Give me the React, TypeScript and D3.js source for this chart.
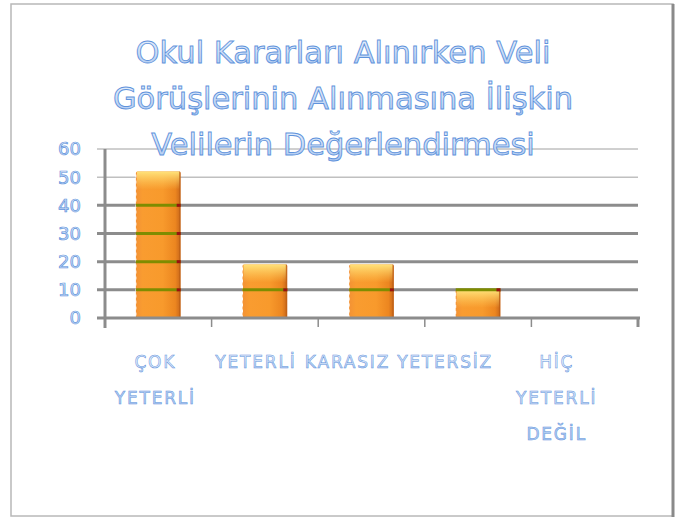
import React from "react";
import * as d3 from "d3";

const categories = ["ÇOK YETERLİ", "YETERLİ", "KARASIZ", "YETERSİZ", "HİÇ YETERLİ DEĞİL"];
const categoryLines = [["ÇOK", "YETERLİ"], ["YETERLİ"], ["KARASIZ"], ["YETERSİZ"], ["HİÇ", "YETERLİ", "DEĞİL"]];
const values = [52, 19, 19, 10, 0];
const yTicks = [0, 10, 20, 30, 40, 50, 60];
const titleLines = ["Okul Kararları Alınırken Veli", "Görüşlerinin Alınmasına İlişkin", "Velilerin Değerlendirmesi"];

// label horizontal nudges (style only)
const labelNudge = [-3, -9, -24, -33, -28];

const W = 676;
const H = 517;

export default function App() {
  const x = d3.scaleBand<string>().domain(categories).range([105, 638]).paddingInner(0.58).paddingOuter(0.29);
  const y = d3.scaleLinear().domain([0, 60]).range([318, 149]);
  const step = x.step();
  const textFill = "url(#txtGrad)";
  const textStroke = "#5f93dc";

  return (
    <svg width={W} height={H} style={{ position: "absolute", left: 0, top: 0, background: "#fff" }}>
      <defs>
        <linearGradient id="barH" x1="0" x2="1" y1="0" y2="0">
          <stop offset="0" stopColor="#f39235" />
          <stop offset="0.15" stopColor="#f99c30" />
          <stop offset="0.6" stopColor="#f89a2c" />
          <stop offset="0.88" stopColor="#ec8620" />
          <stop offset="1" stopColor="#c8661a" />
        </linearGradient>
        <linearGradient id="barTop" x1="0" x2="0" y1="0" y2="1">
          <stop offset="0" stopColor="#ffe27a" stopOpacity="1" />
          <stop offset="1" stopColor="#ffd060" stopOpacity="0" />
        </linearGradient>
        <linearGradient id="txtGrad" x1="0" x2="0" y1="0" y2="1">
          <stop offset="0" stopColor="#eef4fd" />
          <stop offset="1" stopColor="#a9c6ef" />
        </linearGradient>
      </defs>

      {/* outer border */}
      <rect x={11} y={4} width={662} height={512} fill="#fff" stroke="#b8b8b8" strokeWidth={1.5} />
      <line x1={673} x2={673} y1={4} y2={517} stroke="#8a8a8a" strokeWidth={3} />

      {/* gridlines */}
      {yTicks.filter((t) => t > 0).map((t) => (
        <line key={"g" + t} x1={97} x2={638} y1={y(t)} y2={y(t)} stroke={t >= 50 ? "#a0a0a0" : "#8c8c8c"} strokeWidth={t >= 50 ? 1 : 3} />
      ))}

      {/* bars */}
      {categories.map((c, i) => {
        const v = values[i];
        if (v <= 0) return null;
        const bx = x(c) as number;
        const bw = x.bandwidth();
        const top = y(v);
        const h = y(0) - top;
        return (
          <g key={"b" + c}>
            <rect x={bx} y={top} width={bw} height={h} fill="url(#barH)" rx={1.5} />
            <rect x={bx + 1} y={top} width={bw - 2} height={Math.min(18, h)} fill="url(#barTop)" />
            <line x1={bx} x2={bx} y1={top + 3} y2={y(0)} stroke="#fff" strokeWidth={1} strokeDasharray="3,3" />
            <line x1={bx + bw - 1} x2={bx + bw - 1} y1={top} y2={y(0)} stroke="#b55a14" strokeWidth={1} opacity={0.6} />
            {yTicks.filter((t) => t > 0 && t <= v && t < 50).map((t) => (
              <g key={"o" + t}>
                <line x1={bx} x2={bx + bw} y1={y(t)} y2={y(t)} stroke="#7f8c00" strokeWidth={3} />
                <line x1={bx + bw - 4} x2={bx + bw} y1={y(t)} y2={y(t)} stroke="#9a1010" strokeWidth={3} />
              </g>
            ))}
          </g>
        );
      })}

      {/* axes */}
      <line x1={97} x2={640} y1={y(0)} y2={y(0)} stroke="#8c8c8c" strokeWidth={3} />
      <line x1={105} x2={105} y1={149} y2={328} stroke="#8c8c8c" strokeWidth={3} />
      {categories.map((c, i) => (
        <line key={"xt" + c} x1={105 + step * (i + 1)} x2={105 + step * (i + 1)} y1={y(0)} y2={y(0) + 9} stroke="#8c8c8c" strokeWidth={i === 4 ? 3 : 1.5} />
      ))}

      {/* y tick labels */}
      {yTicks.map((t) => (
        <text key={"yl" + t} x={81} y={y(t)} dy="0.36em" textAnchor="end" fontFamily="DejaVu Sans" fontSize={18} fill={textFill} stroke={textStroke} strokeWidth={0.7}>
          {t}
        </text>
      ))}

      {/* x labels */}
      {categories.map((c, i) => {
        const cx = (x(c) as number) + x.bandwidth() / 2 + labelNudge[i];
        return (
          <text key={"xl" + c} textAnchor="middle" fontFamily="DejaVu Sans" fontSize={17} letterSpacing={1.8} fill={textFill} stroke={textStroke} strokeWidth={0.5}>
            {categoryLines[i].map((ln, j) => (
              <tspan key={j} x={cx} y={368 + j * 36}>{ln}</tspan>
            ))}
          </text>
        );
      })}

      {/* title */}
      {titleLines.map((ln, i) => (
        <text key={"t" + i} x={343} y={63 + i * 46} textAnchor="middle" fontFamily="DejaVu Sans" fontSize={30.5} fill={textFill} stroke={textStroke} strokeWidth={0.9}>
          {ln}
        </text>
      ))}
    </svg>
  );
}
